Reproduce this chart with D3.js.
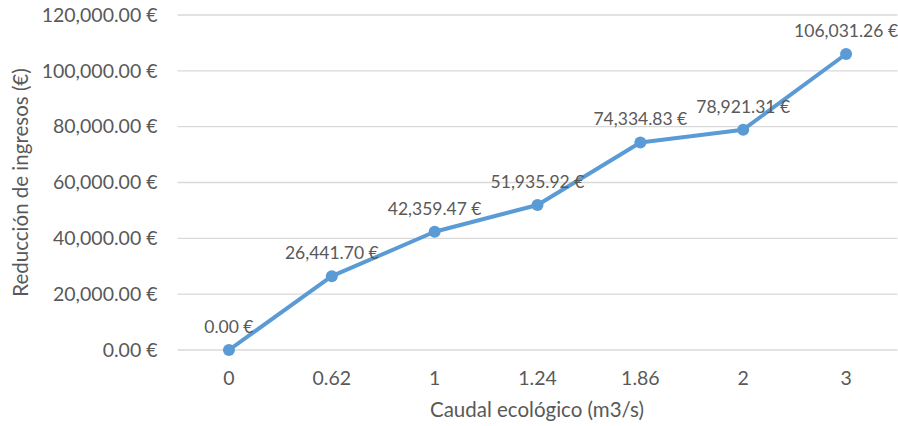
<!DOCTYPE html>
<html><head><meta charset="utf-8">
<script src="https://cdn.jsdelivr.net/npm/d3@7"></script>
<style>
body{margin:0;background:#fff;}
text{font-family:Lato,"Open Sans",sans-serif;fill:#595959;}
</style></head>
<body><svg id="c" width="898" height="426"></svg>
<script>
const categories = ["0","0.62","1","1.24","1.86","2","3"];
const values = [0, 26441.70, 42359.47, 51935.92, 74334.83, 78921.31, 106031.26];
const yTicks = [0,20000,40000,60000,80000,100000,120000];
const xTitle = "Caudal ecológico (m3/s)";
const yTitle = "Reducción de ingresos (€)";

const svg = d3.select("#c");
const pL = 177.5, pR = 897.5, pT = 15, pB = 350;
const x = d3.scaleBand().domain(categories).range([pL,pR]);
const y = d3.scaleLinear().domain([0,120000]).range([pB,pT]);
const fmt = d3.format(",.2f");
const eur = v => fmt(v) + " €";

// gridlines
svg.append("g").selectAll("line").data(yTicks).join("line")
  .attr("x1",pL).attr("x2",pR)
  .attr("y1",d=>y(d)).attr("y2",d=>y(d))
  .attr("stroke","#d9d9d9").attr("stroke-width",1.3);

// y axis labels
const ya = svg.append("g").attr("transform",`translate(${pL},0)`)
  .call(d3.axisLeft(y).tickValues(yTicks).tickFormat(eur).tickSize(0).tickPadding(20));
ya.select(".domain").remove();
ya.selectAll("text").style("font-size","19.5px").attr("fill","#595959");

// x axis labels
const xa = svg.append("g").attr("transform",`translate(0,${pB})`)
  .call(d3.axisBottom(x).tickSize(0).tickPadding(21));
xa.select(".domain").remove();
xa.selectAll("text").style("font-size","19.5px").attr("fill","#595959");

// line
const cx = d => x(d) + x.bandwidth()/2;
svg.append("path").datum(values)
  .attr("fill","none").attr("stroke","#5b9bd5").attr("stroke-width",4)
  .attr("stroke-linejoin","round")
  .attr("d", d3.line().x((d,i)=>cx(categories[i])).y(d=>y(d)));

svg.append("g").selectAll("circle").data(values).join("circle")
  .attr("cx",(d,i)=>cx(categories[i])).attr("cy",d=>y(d)).attr("r",6)
  .attr("fill","#5b9bd5");

// data labels
svg.append("g").selectAll("text").data(values).join("text")
  .attr("x",(d,i)=>cx(categories[i])).attr("y",d=>y(d)-17)
  .attr("text-anchor","middle").style("font-size","17.5px")
  .text(eur);

// titles
svg.append("text").attr("x",537).attr("y",417)
  .attr("text-anchor","middle").style("font-size","20.5px").text(xTitle);
svg.append("text").attr("transform",`translate(28,182.5) rotate(-90)`)
  .attr("text-anchor","middle").style("font-size","20.5px").text(yTitle);
</script></body></html>
